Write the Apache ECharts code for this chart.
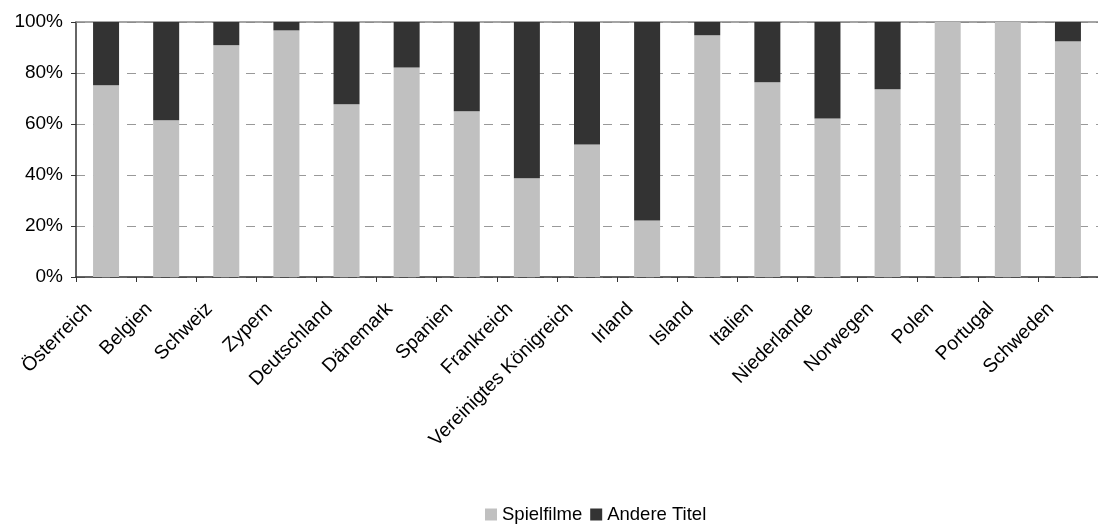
<!DOCTYPE html>
<html><head><meta charset="utf-8">
<script src="https://cdn.jsdelivr.net/npm/echarts@6/dist/echarts.min.js"></script>
<style>html,body{margin:0;padding:0;background:#fff}#c{width:1098px;height:524px}</style>
</head><body><div id="c"></div>
<script>
const categories = ["Österreich","Belgien","Schweiz","Zypern","Deutschland","Dänemark","Spanien","Frankreich","Vereinigtes Königreich","Irland","Island","Italien","Niederlande","Norwegen","Polen","Portugal","Schweden"];
const spielfilme = [75.2,61.5,90.9,96.7,67.7,82.2,65.0,38.7,52.0,22.2,94.8,76.4,62.2,73.6,100,100,92.4];
const andereTitel = [24.8,38.5,9.1,3.3,32.3,17.8,35.0,61.3,48.0,77.8,5.2,23.6,37.8,26.4,0,0,7.6];
const yTicks = [0,20,40,60,80,100];

const font = "'Liberation Sans', Arial, sans-serif";
const chart = echarts.init(document.getElementById('c'));
chart.setOption({
  animation:false,
  backgroundColor:'#fff',
  grid:{left:76, top:22, width:1025, height:255},
  legend:{left:480, top:500, icon:'rect', itemWidth:12, itemHeight:12, itemGap:8,
    textStyle:{fontFamily:font, fontSize:18.5, color:'#000'},
    data:['Spielfilme','Andere Titel']},
  xAxis:[{type:'category', data:categories,
    axisLine:{lineStyle:{color:'#333', width:1.5}},
    axisTick:{show:true, length:5, lineStyle:{color:'#333'}},
    axisLabel:{rotate:45, interval:0, fontFamily:font, fontSize:19.5, color:'#000', margin:12, padding:[0,24,0,0]}},
   {type:'category', data:categories, position:'top',
    axisLine:{show:true, lineStyle:{color:'#888', width:1.5}},
    axisTick:{show:false}, axisLabel:{show:false}}],
  yAxis:{type:'value', min:0, max:100, interval:20,
    axisLine:{show:true, lineStyle:{color:'#333', width:1.5}},
    axisTick:{show:true, length:5, lineStyle:{color:'#333'}},
    axisLabel:{fontFamily:font, fontSize:19, color:'#000', margin:13,
      formatter:v=> yTicks.includes(v) ? v+'%' : ''},
    splitLine:{show:true, lineStyle:{color:'#999', type:[9,8], width:1}}},
  series:[
    {name:'Spielfilme', type:'bar', stack:'a', data:spielfilme, barWidth:26, itemStyle:{color:'#C0C0C0'}},
    {name:'Andere Titel', type:'bar', stack:'a', data:andereTitel, barWidth:26, itemStyle:{color:'#333333'}}
  ]
});
</script></body></html>
